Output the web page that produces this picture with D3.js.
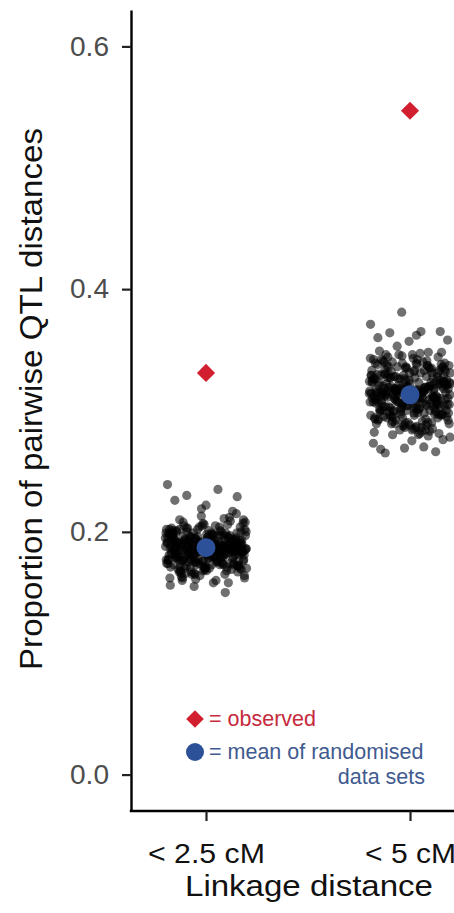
<!DOCTYPE html>
<html>
<head>
<meta charset="utf-8">
<script src="https://cdn.jsdelivr.net/npm/d3@7"></script>
<style>
  html, body { margin: 0; padding: 0; background: #fff; }
  svg { display: block; font-family: "Liberation Sans", Arial, Helvetica, sans-serif; }
</style>
</head>
<body>
<svg id="chart" width="454" height="913"></svg>
<script>
// ---------------- data ----------------
const categories = ["< 2.5 cM", "< 5 cM"];
const observed = [0.331, 0.547];
const randomMean = [0.187, 0.313];
const yTicks = [0, 0.2, 0.4, 0.6];
const yTitle = "Proportion of pairwise QTL distances";
const xTitle = "Linkage distance";
const legendObserved = "= observed";
const legendMean1 = "= mean of randomised";
const legendMean2 = "data sets";

// proportions from the randomised data sets, < 2.5 cM
const randomised25 = [
.186,.179,.194,.171,.201,.188,.165,.183,.192,.176,.209,.184,.174,.197,.181,.190,.168,.187,.199,.178,
.185,.193,.162,.180,.205,.189,.175,.196,.183,.170,.191,.186,.202,.177,.188,.166,.195,.182,.173,.211,
.184,.176,.198,.189,.169,.192,.181,.204,.187,.172,.194,.179,.185,.161,.200,.190,.177,.186,.207,.183,
.174,.195,.188,.180,.167,.197,.184,.191,.176,.203,.186,.171,.193,.182,.189,.164,.198,.185,.178,.213,
.187,.179,.192,.170,.201,.183,.196,.175,.188,.160,.194,.181,.206,.186,.173,.190,.184,.199,.168,.185,
.191,.177,.186,.203,.172,.195,.182,.189,.165,.197,.180,.208,.187,.176,.193,.184,.171,.200,.188,.179,
.183,.196,.174,.190,.186,.215,.169,.192,.181,.199,.177,.187,.163,.194,.185,.202,.173,.189,.182,.196,
.178,.188,.193,.170,.205,.184,.191,.176,.198,.186,.167,.190,.181,.210,.187,.174,.195,.183,.200,.172,
.189,.180,.194,.166,.202,.185,.177,.192,.188,.171,.197,.183,.204,.179,.191,.158,.186,.199,.175,.193,
.184,.170,.196,.187,.181,.207,.173,.190,.185,.164,.198,.182,.193,.176,.188,.201,.168,.195,.186,.179,
.192,.174,.187,.203,.180,.196,.169,.189,.184,.212,.177,.191,.186,.172,.199,.183,.194,.165,.188,.181,
.197,.176,.185,.190,.162,.201,.182,.193,.178,.188,.206,.173,.195,.184,.170,.191,.187,.199,.179,.186,
.183,.194,.171,.189,.204,.177,.192,.185,.167,.198,.181,.190,.175,.208,.186,.196,.173,.188,.182,.200,
.178,.191,.186,.169,.195,.183,.202,.176,.189,.193,.172,.185,.197,.180,.210,.187,.166,.192,.184,.199,
.190,.175,.188,.182,.200,.171,.194,.186,.179,.205,.184,.168,.196,.189,.177,.193,.185,.202,.174,.187,
.239,.235,.230,.229,.222,.226,.150,.155,.162,.158,.160,.217,.219,.156
];

// proportions from the randomised data sets, < 5 cM
const randomised5 = [
.313,.301,.327,.294,.335,.309,.288,.318,.322,.298,.341,.311,.305,.329,.283,.316,.296,.331,.307,.320,
.315,.292,.338,.303,.324,.286,.312,.333,.299,.318,.346,.308,.290,.326,.314,.302,.336,.281,.319,.310,
.304,.328,.295,.317,.340,.311,.287,.323,.306,.332,.297,.314,.349,.300,.321,.289,.316,.337,.308,.325,
.293,.319,.310,.334,.285,.313,.327,.302,.343,.315,.296,.322,.308,.330,.279,.317,.305,.339,.312,.299,
.326,.307,.318,.291,.336,.314,.300,.323,.284,.331,.310,.344,.297,.320,.306,.328,.289,.315,.333,.303,
.317,.294,.329,.311,.302,.338,.288,.321,.309,.326,.298,.342,.313,.305,.335,.282,.319,.300,.324,.312,
.306,.331,.297,.316,.347,.303,.322,.290,.314,.337,.308,.325,.286,.318,.301,.329,.310,.340,.295,.320,
.311,.299,.334,.307,.323,.280,.315,.328,.304,.339,.293,.317,.309,.332,.300,.321,.345,.296,.314,.327,
.303,.325,.292,.318,.336,.310,.287,.330,.306,.319,.342,.298,.313,.324,.284,.316,.335,.301,.322,.308,
.330,.305,.316,.289,.341,.312,.300,.327,.295,.318,.306,.333,.291,.320,.348,.309,.323,.283,.314,.337,
.298,.322,.311,.336,.294,.317,.328,.304,.343,.313,.285,.319,.307,.331,.299,.325,.310,.338,.290,.316,
.321,.302,.334,.309,.288,.326,.315,.340,.297,.312,.329,.306,.318,.278,.323,.311,.344,.300,.317,.305,
.309,.332,.296,.320,.303,.339,.314,.286,.327,.310,.322,.293,.335,.307,.318,.301,.346,.312,.290,.326,
.316,.295,.328,.306,.342,.311,.299,.324,.281,.319,.333,.304,.315,.337,.292,.321,.308,.330,.297,.314,
.324,.310,.289,.335,.313,.301,.320,.346,.305,.317,.294,.331,.308,.326,.284,.318,.339,.302,.315,.312,
.381,.371,.365,.364,.365,.357,.360,.348,.353,.358,.362,.265,.266,.269,.273,.270,.280,.276,.275,.268
];
const randomised = [randomised25, randomised5];

// ---------------- layout ----------------
const svg = d3.select("#chart");
const mLeft = 131, mTop = 10, mBottom = 811, mRight = 485;
const jitterHalfWidth = 0.2; // in category units

const x = d3.scalePoint().domain(categories).range([mLeft, mRight]).padding(0.3676);
const step = x.step();
const y = d3.scaleLinear().domain([-0.030, 0.630]).range([mBottom, mTop]);

// jittered randomised points (deterministic low-discrepancy jitter)
const phi = 0.6180339887;
const pts = [];
randomised.forEach((arr, ci) => {
  arr.forEach((v, i) => {
    const u = ((i + 1) * phi + ci * 0.37) % 1;
    pts.push({ cat: categories[ci], v: v, j: (u - 0.5) * 2 * jitterHalfWidth });
  });
});

const plot = svg.append("g");
plot.selectAll("circle.rand").data(pts).enter().append("circle")
  .attr("class", "rand")
  .attr("cx", d => x(d.cat) + d.j * step)
  .attr("cy", d => y(d.v))
  .attr("r", 4.6)
  .attr("fill", "#000")
  .attr("fill-opacity", 0.56);

// means
plot.selectAll("circle.mean").data(categories).enter().append("circle")
  .attr("class", "mean")
  .attr("cx", d => x(d))
  .attr("cy", (d, i) => y(randomMean[i]))
  .attr("r", 9.5)
  .attr("fill", "#2d5199");

// observed diamonds
const diamond = d3.symbol().type(d3.symbolSquare).size(165);
plot.selectAll("path.obs").data(categories).enter().append("path")
  .attr("class", "obs")
  .attr("d", diamond)
  .attr("transform", (d, i) => `translate(${x(d)},${y(observed[i])}) rotate(45)`)
  .attr("fill", "#d21f2f");

// ---------------- axes ----------------
const yAxis = d3.axisLeft(y).tickValues(yTicks).tickFormat(d3.format(".1f"))
  .tickSize(9).tickSizeOuter(0).tickPadding(13);
const gy = svg.append("g").attr("transform", `translate(${mLeft},0)`).call(yAxis);
gy.select(".domain").attr("stroke", "#000").attr("stroke-width", 2.4);
gy.selectAll(".tick line").attr("stroke", "#222").attr("stroke-width", 2.2);
gy.selectAll(".tick text")
  .attr("fill", "#4d4d4d")
  .attr("font-size", 27)
  .attr("font-family", "Liberation Sans, Arial, sans-serif")
  .attr("textLength", 39)
  .attr("lengthAdjust", "spacingAndGlyphs");

const xAxis = d3.axisBottom(x).tickSize(10).tickSizeOuter(0);
const gx = svg.append("g").attr("transform", `translate(0,${mBottom})`).call(xAxis);
gx.select(".domain").attr("stroke", "#000").attr("stroke-width", 2.4)
  .attr("d", `M${mLeft - 1.2},0H${454 + 5}`);
gx.selectAll(".tick line").attr("stroke", "#222").attr("stroke-width", 2.2);
const xLabelLen = { "< 2.5 cM": 117, "< 5 cM": 91 };
gx.selectAll(".tick text")
  .attr("fill", "#111")
  .attr("font-size", 28.5)
  .attr("font-family", "Liberation Sans, Arial, sans-serif")
  .attr("y", 52).attr("dy", 0)
  .attr("textLength", d => xLabelLen[d])
  .attr("lengthAdjust", "spacingAndGlyphs");

// titles
svg.append("text")
  .attr("x", (x(categories[0]) + x(categories[1])) / 2 + 1)
  .attr("y", 896)
  .attr("text-anchor", "middle")
  .attr("font-size", 29)
  .attr("fill", "#111")
  .attr("textLength", 248)
  .attr("lengthAdjust", "spacingAndGlyphs")
  .text(xTitle);

svg.append("text")
  .attr("transform", `translate(42,${(670 + 128) / 2}) rotate(-90)`)
  .attr("text-anchor", "middle")
  .attr("font-size", 31)
  .attr("fill", "#111")
  .attr("textLength", 542)
  .attr("lengthAdjust", "spacingAndGlyphs")
  .text(yTitle);

// ---------------- legend ----------------
const lg = svg.append("g");
lg.append("path").attr("d", d3.symbol().type(d3.symbolSquare).size(155))
  .attr("transform", "translate(195,719) rotate(45)").attr("fill", "#d21f2f");
lg.append("text").attr("x", 209).attr("y", 726).attr("font-size", 21.5)
  .attr("fill", "#c62a3d").text(legendObserved);
lg.append("circle").attr("cx", 195).attr("cy", 752).attr("r", 9).attr("fill", "#2d5199");
lg.append("text").attr("x", 209).attr("y", 759).attr("font-size", 21.5)
  .attr("fill", "#3f5b8f").text(legendMean1);
lg.append("text").attr("x", 425).attr("y", 784).attr("font-size", 21.5)
  .attr("text-anchor", "end").attr("fill", "#3f5b8f").text(legendMean2);
</script>
</body>
</html>
